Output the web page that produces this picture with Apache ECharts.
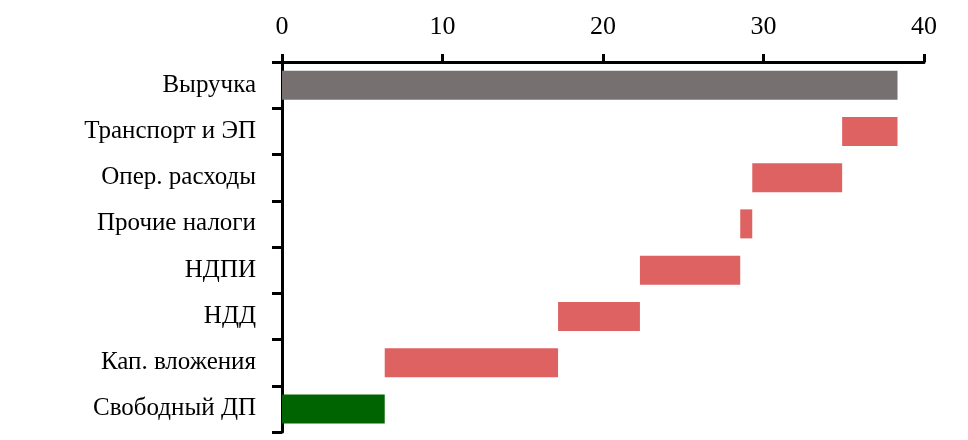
<!DOCTYPE html>
<html>
<head>
<meta charset="utf-8">
<script src="https://cdn.jsdelivr.net/npm/echarts@6/dist/echarts.min.js"></script>
<style>
html,body{margin:0;padding:0;background:#fff;}
#chart{width:968px;height:440px;}
</style>
</head>
<body>
<div id="chart"></div>
<script>
const categories = ['Выручка', 'Транспорт и ЭП', 'Опер. расходы', 'Прочие налоги', 'НДПИ', 'НДД', 'Кап. вложения', 'Свободный ДП'];
const barStart = [0, 34.9, 29.3, 28.55, 22.3, 17.2, 6.4, 0];
const barEnd = [38.35, 38.35, 34.9, 29.3, 28.55, 22.3, 17.2, 6.4];
const barKind = ['total', 'cost', 'cost', 'cost', 'cost', 'cost', 'cost', 'result'];
const xTicks = [0, 10, 20, 30, 40];

const colorOf = { total: '#767170', cost: '#df6262', result: '#006400' };
const FONT = 'Liberation Serif';

const chart = echarts.init(document.getElementById('chart'), null, { renderer: 'canvas' });
chart.setOption({
  backgroundColor: '#ffffff',
  animation: false,
  grid: { left: 282, right: 44, top: 62, bottom: 8, containLabel: false },
  xAxis: {
    type: 'value',
    position: 'top',
    min: xTicks[0],
    max: xTicks[xTicks.length - 1],
    interval: 10,
    axisLine: { show: true, lineStyle: { color: '#000', width: 3 } },
    axisTick: { show: true, length: 8, lineStyle: { color: '#000', width: 3 } },
    splitLine: { show: false },
    axisLabel: { color: '#000', fontFamily: FONT, fontSize: 26, margin: 22 }
  },
  yAxis: {
    type: 'category',
    inverse: true,
    data: categories,
    axisLine: { show: true, lineStyle: { color: '#000', width: 3 } },
    axisTick: { show: true, length: 10, lineStyle: { color: '#000', width: 3 } },
    axisLabel: { color: '#000', fontFamily: FONT, fontSize: 25, margin: 26 }
  },
  series: [
    {
      type: 'bar', stack: 'w', barWidth: 29, silent: true,
      itemStyle: { color: 'rgba(0,0,0,0)' },
      data: barStart
    },
    {
      type: 'bar', stack: 'w', barWidth: 29,
      data: barEnd.map((e, i) => ({
        value: +(e - barStart[i]).toFixed(3),
        itemStyle: { color: colorOf[barKind[i]] }
      }))
    }
  ]
});
</script>
</body>
</html>
